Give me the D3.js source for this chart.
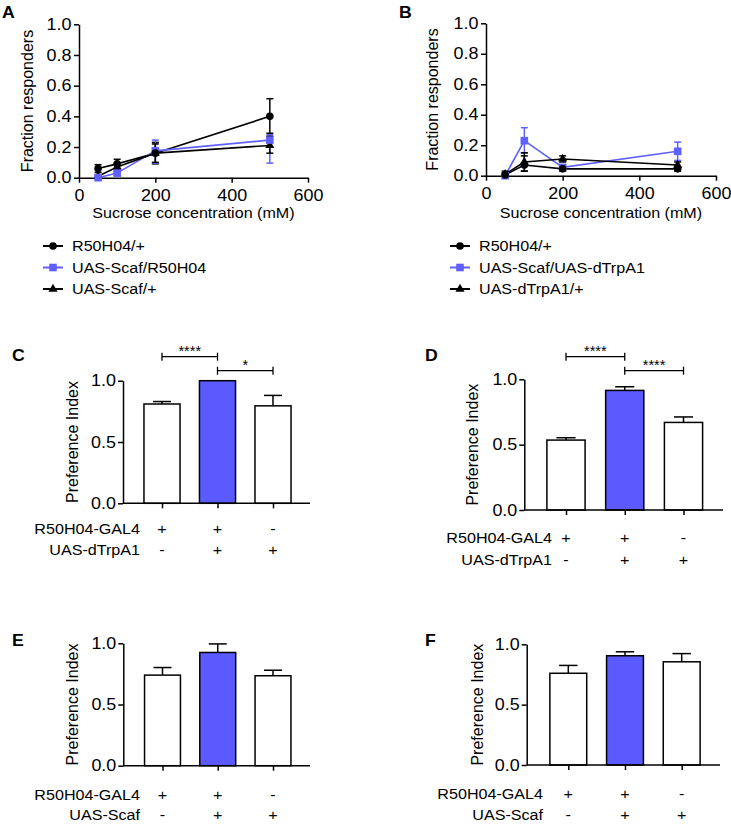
<!DOCTYPE html>
<html><head><meta charset="utf-8">
<script src="https://cdn.jsdelivr.net/npm/d3@7"></script>
<style>
body{margin:0;background:#fff}
svg{display:block}
text{font-family:"Liberation Sans",Arial,Helvetica,sans-serif;font-size:15.5px;fill:#000}
text.tick{font-size:16px}
text.rot{font-size:16px}
text.panel{font-weight:bold;font-size:17px}
</style>
</head><body>
<svg id="c" width="731" height="826"></svg>
<script>
// ---------------- DATA ----------------
const concentrations = [50, 100, 200, 500];
const xTicksLine = [0, 200, 400, 600];
const yTicksLine = [0, 0.2, 0.4, 0.6, 0.8, 1.0];
const yTicksBar = [0, 0.5, 1.0];

// Panel A
const legendA = ["R50H04/+", "UAS-Scaf/R50H04", "UAS-Scaf/+"];
const aR50H04   = [0.06, 0.09, 0.16, 0.40];
const aR50H04Lo = [0.035, 0.055, 0.09, 0.29];
const aR50H04Hi = [0.085, 0.12, 0.23, 0.515];
const aScafR50   = [0.0, 0.03, 0.175, 0.245];
const aScafR50Lo = [0.0, 0.015, 0.095, 0.095];
const aScafR50Hi = [0.01, 0.045, 0.245, 0.28];
const aScafCtl   = [0.01, 0.07, 0.16, 0.21];
const aScafCtlLo = [0.0, 0.045, 0.10, 0.16];
const aScafCtlHi = [0.02, 0.095, 0.22, 0.27];

// Panel B
const legendB = ["R50H04/+", "UAS-Scaf/UAS-dTrpA1", "UAS-dTrpA1/+"];
const bR50H04   = [0.005, 0.07, 0.045, 0.045];
const bR50H04Lo = [0.0, 0.03, 0.03, 0.03];
const bR50H04Hi = [0.02, 0.13, 0.06, 0.06];
const bScafTrp   = [0.0, 0.23, 0.055, 0.16];
const bScafTrpLo = [0.0, 0.15, 0.04, 0.10];
const bScafTrpHi = [0.005, 0.315, 0.07, 0.22];
const bTrpCtl   = [0.01, 0.09, 0.11, 0.07];
const bTrpCtlLo = [0.0, 0.03, 0.09, 0.05];
const bTrpCtlHi = [0.03, 0.15, 0.13, 0.09];

// Bar panels
const genotypeRow1Label = "R50H04-GAL4";
const genotypeRow1 = ["+", "+", "-"];
const trpRow2Label = "UAS-dTrpA1";
const scafRow2Label = "UAS-Scaf";
const genotypeRow2 = ["-", "+", "+"];

const cMeans = [0.81, 1.0, 0.795];
const cErr   = [0.02, 0.0, 0.085];
const cSig   = [["****", 0, 1], ["*", 1, 2]];

const dMeans = [0.535, 0.915, 0.67];
const dErr   = [0.018, 0.028, 0.042];
const dSig   = [["****", 0, 1], ["****", 1, 2]];

const eMeans = [0.74, 0.925, 0.735];
const eErr   = [0.062, 0.07, 0.045];

const fMeans = [0.76, 0.905, 0.855];
const fErr   = [0.065, 0.033, 0.068];

// ---------------- STYLE ----------------
const BLUE = "#5a5aff";
const LINE_BLUE = "#6060ff";
const SX = 1.04;       // horizontal glyph stretch
const SX_TICK = 1.12;  // tick labels

const svg = d3.select("#c");

function styleAxis(g) {
  g.attr("font-size", null).attr("font-family", null);
  g.selectAll("path,line").attr("stroke", "#000").attr("stroke-width", 1.5);
  g.selectAll("text").classed("tick", true);
}

function rotLabel(txt, cx, cy) {
  svg.append("text").attr("class", "rot")
    .attr("transform", `translate(${cx},${cy}) rotate(-90)`)
    .attr("text-anchor", "middle").attr("dy", "0.35em").text(txt);
}

function panelLetter(t, x, y) {
  svg.append("text").attr("class", "panel").attr("x", x).attr("y", y).text(t);
}

// ---------------- LINE CHARTS ----------------
function lineChart(cfg, series, names) {
  const x = d3.scaleLinear().domain([0, 600]).range([cfg.x0, cfg.x1]);
  const y = d3.scaleLinear().domain([0, 1]).range([cfg.yBot, cfg.yTop]);
  const g = svg.append("g");

  g.append("g").attr("transform", `translate(0,${cfg.yBot})`)
    .call(d3.axisBottom(x).tickValues(xTicksLine).tickSize(5).tickSizeOuter(0).tickPadding(7))
    .call(styleAxis);
  g.append("g").attr("transform", `translate(${cfg.x0},0)`)
    .call(d3.axisLeft(y).tickValues(yTicksLine).tickFormat(d3.format(".1f")).tickSize(5).tickSizeOuter(0).tickPadding(2.5))
    .call(styleAxis);

  svg.append("text").attr("x", (cfg.x0 + cfg.x1) / 2).attr("y", cfg.titleY)
    .attr("text-anchor", "middle").text("Sucrose concentration (mM)");
  rotLabel("Fraction responders", cfg.yLabX, (cfg.yTop + cfg.yBot) / 2);

  const line = d3.line().x((d, i) => x(concentrations[i])).y(d => y(d));
  series.forEach(s => {
    g.append("path").attr("d", line(s.v)).attr("fill", "none")
      .attr("stroke", s.color).attr("stroke-width", 1.6);
  });
  series.forEach(s => {
    s.v.forEach((v, i) => {
      const cx = x(concentrations[i]);
      g.append("line").attr("x1", cx).attr("x2", cx).attr("y1", y(s.lo[i])).attr("y2", y(s.hi[i]))
        .attr("stroke", s.color).attr("stroke-width", 1.5);
      [s.lo[i], s.hi[i]].forEach(e => {
        g.append("line").attr("x1", cx - 3.5).attr("x2", cx + 3.5).attr("y1", y(e)).attr("y2", y(e))
          .attr("stroke", s.color).attr("stroke-width", 1.5);
      });
    });
  });
  const drawMarker = (gg, shape, cx, cy, color) => {
    if (shape === "circle") gg.append("circle").attr("cx", cx).attr("cy", cy).attr("r", 3.8).attr("fill", color);
    else if (shape === "square") gg.append("rect").attr("x", cx - 3.8).attr("y", cy - 3.8).attr("width", 7.6).attr("height", 7.6).attr("fill", color);
    else gg.append("path").attr("d", d3.symbol(d3.symbolTriangle, 36)()).attr("transform", `translate(${cx},${cy})`).attr("fill", color);
  };
  [series[2], series[1], series[0]].forEach(s => {
    s.v.forEach((v, i) => drawMarker(g, s.shape, x(concentrations[i]), y(v), s.color));
  });

  names.forEach((n, i) => {
    const ly = cfg.legY + i * 21.5;
    const s = series[i];
    svg.append("line").attr("x1", cfg.legX).attr("x2", cfg.legX + 20).attr("y1", ly).attr("y2", ly)
      .attr("stroke", s.color).attr("stroke-width", 2);
    drawMarker(svg, s.shape, cfg.legX + 10, ly, s.color);
    svg.append("text").attr("x", cfg.legX + 29).attr("y", ly).attr("dy", "0.35em").text(n);
  });
}

lineChart({x0: 79, x1: 308, yTop: 24.3, yBot: 177.7, titleY: 218, yLabX: 27, legX: 43, legY: 246},
  [{v: aR50H04, lo: aR50H04Lo, hi: aR50H04Hi, color: "#000", shape: "circle"},
   {v: aScafR50, lo: aScafR50Lo, hi: aScafR50Hi, color: LINE_BLUE, shape: "square"},
   {v: aScafCtl, lo: aScafCtlLo, hi: aScafCtlHi, color: "#000", shape: "triangle"}], legendA);

lineChart({x0: 486, x1: 716, yTop: 23.3, yBot: 175.7, titleY: 218, yLabX: 432, legX: 450, legY: 246},
  [{v: bR50H04, lo: bR50H04Lo, hi: bR50H04Hi, color: "#000", shape: "circle"},
   {v: bScafTrp, lo: bScafTrpLo, hi: bScafTrpHi, color: LINE_BLUE, shape: "square"},
   {v: bTrpCtl, lo: bTrpCtlLo, hi: bTrpCtlHi, color: "#000", shape: "triangle"}], legendB);

panelLetter("A", 2, 18);
panelLetter("B", 399, 18);

// ---------------- BAR CHARTS ----------------
function barChart(cfg, means, errs, row2Label, sig) {
  const x = d3.scalePoint().domain([0, 1, 2]).range([cfg.c0, cfg.c2]);
  const step = x.step();
  const bw = step * 0.65;
  const y = d3.scaleLinear().domain([0, 1]).range([cfg.yBot, cfg.yTop]);
  const g = svg.append("g");

  means.forEach((m, i) => {
    g.append("rect").attr("x", x(i) - bw / 2).attr("y", y(m)).attr("width", bw).attr("height", y(0) - y(m))
      .attr("fill", i === 1 ? BLUE : "#fff").attr("stroke", "#000").attr("stroke-width", 1.5);
    if (errs[i] > 0) {
      const top = y(m + errs[i]);
      g.append("line").attr("x1", x(i)).attr("x2", x(i)).attr("y1", y(m)).attr("y2", top).attr("stroke", "#000").attr("stroke-width", 1.5);
      g.append("line").attr("x1", x(i) - bw / 4).attr("x2", x(i) + bw / 4).attr("y1", top).attr("y2", top).attr("stroke", "#000").attr("stroke-width", 1.5);
    }
  });

  const xa = g.append("g").attr("transform", `translate(0,${cfg.yBot})`)
    .call(d3.axisBottom(x).tickSize(5).tickSizeOuter(0).tickFormat(""))
    .call(styleAxis);
  xa.select(".domain").remove();
  g.append("line").attr("x1", cfg.x0).attr("x2", cfg.x1).attr("y1", cfg.yBot).attr("y2", cfg.yBot)
    .attr("stroke", "#000").attr("stroke-width", 1.5);
  g.append("g").attr("transform", `translate(${cfg.x0},0)`)
    .call(d3.axisLeft(y).tickValues(yTicksBar).tickFormat(d3.format(".1f")).tickSize(5).tickSizeOuter(0).tickPadding(2))
    .call(styleAxis);

  rotLabel("Preference Index", cfg.yLabX, (cfg.yTop + cfg.yBot) / 2);

  [[genotypeRow1Label, genotypeRow1, cfg.row1], [row2Label, genotypeRow2, cfg.row2]].forEach(([lab, vals, ry]) => {
    svg.append("text").attr("x", cfg.labR).attr("y", ry).attr("dy", "0.35em").attr("text-anchor", "end").text(lab);
    vals.forEach((v, i) => svg.append("text").attr("x", x(i)).attr("y", ry).attr("dy", "0.35em")
      .attr("text-anchor", "middle").text(v));
  });

  (sig || []).forEach(([stars, a, b], k) => {
    const by = cfg.sigY + k * 14;
    g.append("line").attr("x1", x(a)).attr("x2", x(b)).attr("y1", by).attr("y2", by).attr("stroke", "#000").attr("stroke-width", 1.3);
    [a, b].forEach(j => g.append("line").attr("x1", x(j)).attr("x2", x(j)).attr("y1", by - 4).attr("y2", by + 4)
      .attr("stroke", "#000").attr("stroke-width", 1.3));
    svg.append("text").attr("x", (x(a) + x(b)) / 2).attr("y", by - 0.5).attr("text-anchor", "middle")
      .style("font-size", "14px").text(stars);
  });
}

barChart({x0: 123, x1: 310, yTop: 380.7, yBot: 503.3, c0: 162, c2: 273, yLabX: 72, labR: 140, row1: 529, row2: 550, sigY: 356.7},
  cMeans, cErr, trpRow2Label, cSig);
barChart({x0: 524.3, x1: 723, yTop: 379.3, yBot: 510, c0: 566, c2: 683.5, yLabX: 472, labR: 552, row1: 538, row2: 560, sigY: 356.7},
  dMeans, dErr, trpRow2Label, dSig);
barChart({x0: 123.3, x1: 310, yTop: 643.3, yBot: 765.7, c0: 162.5, c2: 273, yLabX: 72, labR: 140, row1: 795, row2: 815},
  eMeans, eErr, scafRow2Label, null);
barChart({x0: 526.7, x1: 720, yTop: 644.3, yBot: 765, c0: 568.3, c2: 681.7, yLabX: 477, labR: 543, row1: 793.5, row2: 815},
  fMeans, fErr, scafRow2Label, null);

panelLetter("C", 12, 361);
panelLetter("D", 425, 361);
panelLetter("E", 12, 646);
panelLetter("F", 425, 646);

svg.selectAll("text").filter(function () { return !d3.select(this).classed("rot"); }).each(function () {
  const t = d3.select(this);
  const sx = t.classed("tick") ? SX_TICK : SX;
  const x = +t.attr("x") || 0, y = +t.attr("y") || 0;
  const tr = t.attr("transform") || "";
  t.attr("x", 0).attr("y", 0).attr("transform", `${tr} translate(${x},${y}) scale(${sx},1)`);
});
</script>
</body></html>
